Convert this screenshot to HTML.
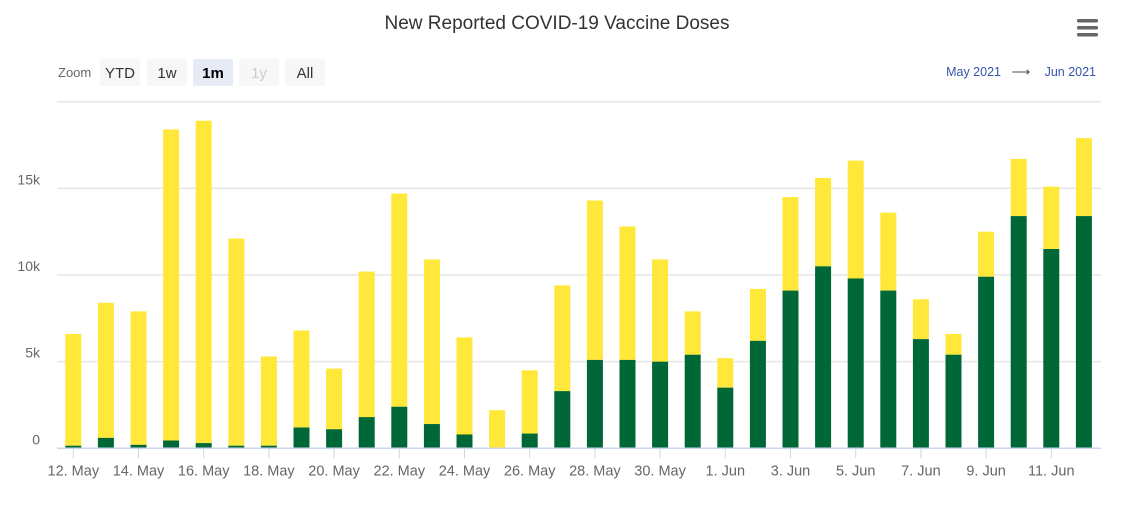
<!DOCTYPE html>
<html><head><meta charset="utf-8"><style>
body{margin:0;background:#fff;font-family:"Liberation Sans",sans-serif;}
svg text{font-family:"Liberation Sans",sans-serif;}
</style></head><body>
<svg id="chart" width="1133" height="503">
<text x="557" y="29" text-anchor="middle" font-size="19" fill="#333">New Reported COVID-19 Vaccine Doses</text>
<g>
<rect x="1077" y="19" width="21" height="3.5" rx="1.5" fill="#666"/><rect x="1077" y="26" width="21" height="3.5" rx="1.5" fill="#666"/><rect x="1077" y="33" width="21" height="3.5" rx="1.5" fill="#666"/>
</g>
<text x="58" y="77" font-size="13" fill="#666">Zoom</text>
<g><rect x="100" y="59" width="40" height="27" rx="2" fill="#f7f7f7"/><text x="120" y="78" text-anchor="middle" font-size="15" fill="#333">YTD</text></g>
<g><rect x="147" y="59" width="40" height="27" rx="2" fill="#f7f7f7"/><text x="167" y="78" text-anchor="middle" font-size="15" fill="#333">1w</text></g>
<g><rect x="193" y="59" width="40" height="27" rx="2" fill="#e6ebf5"/><text x="213" y="78" text-anchor="middle" font-size="15" font-weight="bold" fill="#000">1m</text></g>
<g><rect x="239" y="59" width="40" height="27" rx="2" fill="#f7f7f7"/><text x="259" y="78" text-anchor="middle" font-size="15" fill="#ccc">1y</text></g>
<g><rect x="285" y="59" width="40" height="27" rx="2" fill="#f7f7f7"/><text x="305" y="78" text-anchor="middle" font-size="15" fill="#333">All</text></g>
<text x="1001" y="76" text-anchor="end" font-size="12.5" fill="#3355aa">May 2021</text>
<text x="1021" y="76" text-anchor="middle" font-size="13" fill="#444">⟶</text>
<text x="1096" y="76" text-anchor="end" font-size="12.5" fill="#3355aa">Jun 2021</text>
<g id="grid"></g><g id="bars"></g><g id="axes"></g>
</svg>
<script>
const categories=["12. May","13. May","14. May","15. May","16. May","17. May","18. May","19. May","20. May","21. May","22. May","23. May","24. May","25. May","26. May","27. May","28. May","29. May","30. May","31. May","1. Jun","2. Jun","3. Jun","4. Jun","5. Jun","6. Jun","7. Jun","8. Jun","9. Jun","10. Jun","11. Jun","12. Jun"];
const totals=[6.6,8.4,7.9,18.4,18.9,12.1,5.3,6.8,4.6,10.2,14.7,10.9,6.4,2.2,4.5,9.4,14.3,12.8,10.9,7.9,5.2,9.2,14.5,15.6,16.6,13.6,8.6,6.6,12.5,16.7,15.1,17.9];
const green=[0.15,0.6,0.2,0.45,0.3,0.15,0.15,1.2,1.1,1.8,2.4,1.4,0.8,0,0.85,3.3,5.1,5.1,5.0,5.4,3.5,6.2,9.1,10.5,9.8,9.1,6.3,5.4,9.9,13.4,11.5,13.4];
const yTicks=[0,5,10,15,20];
const yTickLabels=["0","5k","10k","15k",""];
const NS="http://www.w3.org/2000/svg";
const y0=448.3,pxPerK=17.33,x0=73.3,step=32.6,bw=16,left=57,right=1101;
const Y=v=>y0-v*pxPerK, X=i=>x0+i*step;
function mk(tag,attrs,parent){const e=document.createElementNS(NS,tag);for(const k in attrs)e.setAttribute(k,attrs[k]);parent.appendChild(e);return e;}
const grid=document.getElementById('grid'),bars=document.getElementById('bars'),axes=document.getElementById('axes');
yTicks.forEach((t,i)=>{
 const l=mk('line',{x1:left,x2:right,y1:Y(t),y2:Y(t),stroke:'#e6e6e6','stroke-width':1.5},grid);
 
 
 if(yTickLabels[i]){const tx=mk('text',{x:40,y:Y(t)-4,'text-anchor':'end','font-size':14,fill:'#666'},axes);tx.textContent=yTickLabels[i];
 
 }
});
categories.forEach((c,i)=>{
 const g=green[i],t=totals[i];
 const ry=mk('rect',{x:X(i)-bw/2,y:Y(t),width:bw,height:Y(g)-Y(t),fill:'#ffe839'},bars);
 
 
 const rg=mk('rect',{x:X(i)-bw/2,y:Y(g),width:bw,height:y0-Y(g),fill:'#006837'},bars);
 
 
 if(i%2===0){
  const tk=mk('line',{x1:X(i),x2:X(i),y1:y0,y2:y0+10,stroke:'#ccd6eb'},axes);
  
  
  const tx=mk('text',{x:X(i),y:y0+27,'text-anchor':'middle','font-size':14.5,fill:'#666'},axes);tx.textContent=c;
  
  
 }
});
const ax=mk('line',{x1:left,x2:right,y1:y0,y2:y0,stroke:'#ccd6eb','stroke-width':1.5},axes);


</script>
</body></html>
